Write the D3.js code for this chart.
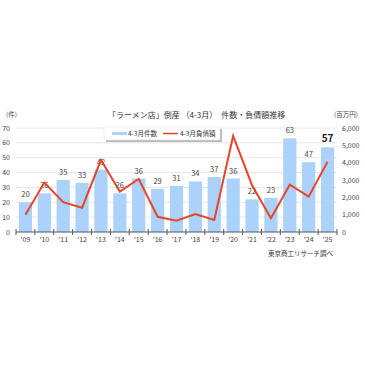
<!DOCTYPE html>
<html><head><meta charset="utf-8">
<script src="https://cdn.jsdelivr.net/npm/d3@7"></script>
<style>body{margin:0;background:#fff}svg{display:block}</style>
</head><body>
<svg id="c" width="365" height="365"></svg>
<script>
const years = ["'09","'10","'11","'12","'13","'14","'15","'16","'17","'18","'19","'20","'21","'22","'23","'24","'25"];
const counts = [20,26,35,33,42,26,36,29,31,34,37,36,22,23,63,47,57];
const debts = [1000,2850,1720,1400,4150,2330,3060,880,650,1040,690,5540,2700,790,2730,2040,4050];
const leftTicks = [0,10,20,30,40,50,60,70];
const rightTicks = [0,1000,2000,3000,4000,5000,6000];

const svg = d3.select("#c");
const font = "'Noto Sans CJK JP', 'Noto Sans', sans-serif";
const L = 16, R = 337, T = 128, B = 232;
const x = d3.scaleBand().domain(years).range([L, R]).paddingInner(0.3).paddingOuter(0.15);
const xb = d3.scaleLinear().domain([0, years.length]).range([L, R]);
const yL = d3.scaleLinear().domain([0,70]).range([B, T]);
const yR = d3.scaleLinear().domain([0,6000]).range([B, T]);

// gridlines
svg.append("g").selectAll("line").data(leftTicks.slice(1)).join("line")
  .attr("x1", L).attr("x2", R).attr("y1", d=>yL(d)).attr("y2", d=>yL(d))
  .attr("stroke", "#e6e6e6").attr("stroke-width", 1);

// bars
svg.append("g").selectAll("rect").data(counts).join("rect")
  .attr("x", (d,i)=>x(years[i])).attr("width", x.bandwidth())
  .attr("y", d=>yL(d)).attr("height", d=>B - yL(d))
  .attr("fill", "#aad2fb");

// bar labels
svg.append("g").selectAll("text").data(counts).join("text")
  .attr("x", (d,i)=>x(years[i]) + x.bandwidth()/2)
  .attr("y", (d,i)=>yL(d) - 5)
  .attr("text-anchor", "middle")
  .attr("font-family", font)
  .attr("font-size", (d,i)=> i===counts.length-1 ? 10 : 7.5)
  .attr("font-weight", (d,i)=> i===counts.length-1 ? "bold" : "normal")
  .attr("fill", (d,i)=> i===counts.length-1 ? "#222" : "#444")
  .text(d=>d);

// line
const line = d3.line().x((d,i)=>x(years[i]) + x.bandwidth()/2).y(d=>yR(d));
svg.append("path").datum(debts).attr("d", line)
  .attr("fill", "none").attr("stroke", "#e8452c").attr("stroke-width", 2).attr("stroke-linejoin", "miter");

// x axis
svg.append("line").attr("x1", L).attr("x2", R).attr("y1", B).attr("y2", B)
  .attr("stroke", "#555").attr("stroke-width", 1);
svg.append("g").selectAll("line").data(d3.range(years.length+1)).join("line")
  .attr("x1", d=>xb(d)).attr("x2", d=>xb(d)).attr("y1", B-3).attr("y2", B+3)
  .attr("stroke", "#555").attr("stroke-width", 1);
svg.append("g").selectAll("text").data(years).join("text")
  .attr("x", d=>x(d) + x.bandwidth()/2).attr("y", B + 10)
  .attr("text-anchor", "middle").attr("font-family", font).attr("font-size", 7)
  .attr("fill", "#444").text(d=>d);

// left axis labels
svg.append("g").selectAll("text").data(leftTicks).join("text")
  .attr("x", 10).attr("y", d=>yL(d) + 2.5)
  .attr("text-anchor", "end").attr("font-family", font).attr("font-size", 7)
  .attr("fill", "#444").text(d=>d);
// right axis labels
svg.append("g").selectAll("text").data(rightTicks).join("text")
  .attr("x", 342).attr("y", d=>yR(d) + 2.5)
  .attr("text-anchor", "start").attr("font-family", font).attr("font-size", 7)
  .attr("fill", "#444").text(d=>d3.format(",")(d));

// units
svg.append("text").attr("x", 6).attr("y", 117).attr("font-family", font).attr("font-size", 6.5)
  .attr("fill", "#444").text("(件)");
svg.append("text").attr("x", 334).attr("y", 117).attr("font-family", font).attr("font-size", 6.5)
  .attr("fill", "#444").text("(百万円)");

// title
svg.append("text").attr("x", 108).attr("y", 118).attr("font-family", font).attr("font-size", 8)
  .attr("fill", "#333").text("「ラーメン店」倒産 （4-3月）　件数・負債額推移");

// legend
const lg = svg.append("g");
lg.append("rect").attr("x", 106).attr("y", 129).attr("width", 116).attr("height", 13).attr("fill", "#bbb");
lg.append("rect").attr("x", 104).attr("y", 127).attr("width", 116).attr("height", 13).attr("fill", "#fff")
  .attr("stroke", "#ddd").attr("stroke-width", 0.5);
lg.append("rect").attr("x", 112).attr("y", 132).attr("width", 15).attr("height", 3).attr("fill", "#aad2fb");
lg.append("text").attr("x", 128).attr("y", 136).attr("font-family", font).attr("font-size", 6.5)
  .attr("fill", "#333").text("4-3月件数");
lg.append("line").attr("x1", 163).attr("x2", 178).attr("y1", 133.5).attr("y2", 133.5)
  .attr("stroke", "#e8452c").attr("stroke-width", 1.5);
lg.append("text").attr("x", 180).attr("y", 136).attr("font-family", font).attr("font-size", 6.5)
  .attr("fill", "#333").text("4-3月負債額");

// source
svg.append("text").attr("x", 333).attr("y", 256).attr("text-anchor", "end").attr("font-family", font)
  .attr("font-size", 6.5).attr("fill", "#333").text("東京商工リサーチ調べ");
</script>
</body></html>
